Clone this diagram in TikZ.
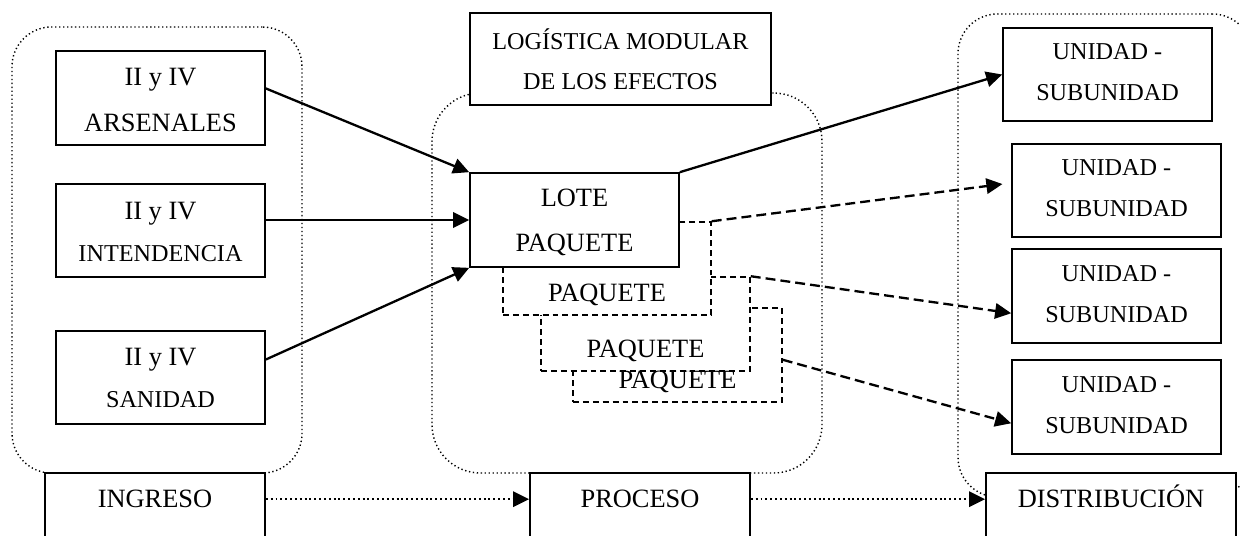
\documentclass[tikz,border=0pt]{standalone}
\usepackage{fontspec}
\setmainfont{Liberation Serif}
\usetikzlibrary{arrows.meta,fit,calc}

\tikzset{
  tip/.style={-{Triangle[length=7.3pt,width=7pt]}},
  solidbox/.style={draw, line width=0.75pt, fill=white, inner sep=0pt},
  pkgbox/.style={draw, line width=0.7pt, dash pattern=on 2.7pt off 1.8pt, fill=white, inner sep=0pt},
  group/.style={draw, line width=0.65pt, dash pattern=on 0.6pt off 1.2pt, inner sep=0pt},
  boxtext/.style={inner sep=0pt, align=center, font=\fontsize{12}{20}\selectfont},
  unittext/.style={boxtext, font=\fontsize{11}{18.6}\selectfont},
  flow/.style={tip, line width=1.05pt},
  dflow/.style={tip, line width=1.05pt, dash pattern=on 4.5pt off 2.3pt},
  stage/.style={tip, line width=0.95pt, dash pattern=on 0.9pt off 1.3pt},
  lbl/.style={inner sep=0pt, anchor=base, font=\fontsize{12}{14}\selectfont},
}

\begin{document}
\begin{tikzpicture}[x=0.4545pt, y=-0.4545pt]
\useasboundingbox (0,0) rectangle (1240,535);
\clip (0,0) rectangle (1240,535);
\fill[white] (0,0) rectangle (1240,535);

% dotted groupings
\node[group, rounded corners=18pt, fit={(12,27)(302,473)}] (gin) {};
\node[group, rounded corners=22pt, fit={(432,93)(822,473)}] (gpro) {};
\node[group, rounded corners=18pt, fit={(958,14)(1252,497)}] (gdis) {};

% sources
\node[solidbox, fit={(56,51)(265,145)}] (ars) {};
\node[solidbox, fit={(56,184)(265,277)}] (int) {};
\node[solidbox, fit={(56,331)(265,424)}] (san) {};
\node[boxtext, font=\fontsize{12}{20.5}\selectfont] (arst) at ($(ars.center)+(0,2)$)
  {II y IV\\ARSENALES};
\node[boxtext, font=\fontsize{12}{19.5}\selectfont] (intt) at ($(int.center)+(0,1.5)$)
  {II y IV\\{\fontsize{11}{19.5}\selectfont INTENDENCIA}};
\node[boxtext, font=\fontsize{12}{19.2}\selectfont] (sant) at ($(san.center)+(0,0.5)$)
  {II y IV\\{\fontsize{11}{19.2}\selectfont SANIDAD}};

% packages, back to front
\node[pkgbox, fit={(573,308)(782,402)}] (pq3) {};
\node[pkgbox, fit={(541,277)(750,371)}] (pq2) {};
\node[pkgbox, fit={(503,222)(711,315)}] (pq1) {};
\node[solidbox, fit={(470,173)(679,267)}] (lote) {};
\node[boxtext, font=\fontsize{12}{20.5}\selectfont] (lotet) at ($(lote.center)+(0,2.5)$)
  {LOTE\\PAQUETE};
\node[lbl] (pq1t) at ($(pq1.south)+(0,-14)$) {PAQUETE};
\node[lbl] (pq2t) at ($(pq2.south)+(0,-14)$) {PAQUETE};
\node[lbl] (pq3t) at ($(pq3.south)+(0,-14)$) {PAQUETE};

\node[solidbox, fit={(470,13)(771,105)}] (log) {};
\node[boxtext, font=\fontsize{11}{18.2}\selectfont] (logt) at (log.center)
  {LOGÍSTICA MODULAR\\DE LOS EFECTOS};

% destinations
\node[solidbox, fit={(1003,28)(1212,121)}] (u1) {};
\node[solidbox, fit={(1012,144)(1221,237)}] (u2) {};
\node[solidbox, fit={(1012,249)(1221,343)}] (u3) {};
\node[solidbox, fit={(1012,360)(1221,454)}] (u4) {};
\node[unittext] (u1t) at ($(u1.center)+(0,-2)$) {UNIDAD -\\SUBUNIDAD};
\node[unittext] (u2t) at ($(u2.center)+(0,-2)$) {UNIDAD -\\SUBUNIDAD};
\node[unittext] (u3t) at ($(u3.center)+(0,-2)$) {UNIDAD -\\SUBUNIDAD};
\node[unittext] (u4t) at ($(u4.center)+(0,-2)$) {UNIDAD -\\SUBUNIDAD};

% stage labels along the bottom
\node[solidbox, fit={(45,473)(265,560)}] (ing) {};
\node[solidbox, fit={(530,473)(750,560)}] (pro) {};
\node[solidbox, fit={(986,473)(1236,560)}] (dis) {};
\node[lbl] (ingt) at ($(ing.north)+(0,35)$) {INGRESO};
\node[lbl] (prot) at ($(pro.north)+(0,35)$) {PROCESO};
\node[lbl] (dist) at ($(dis.north)+(0,35)$) {DISTRIBUCIÓN};

% flows into the lot
\draw[flow] ($(ars.north east)!0.4!(ars.south east)$) -- (lote.north west);
\draw[flow] (int.east |- lote.west) -- (lote.west);
\draw[flow] ($(san.north east)!0.31!(san.south east)$) -- (lote.south west);

% flows out to the units
\draw[flow] (lote.north east) -- (u1.west);
\draw[dflow, shorten >=4pt] (pq1.north east) -- ($(u2.north west)!0.42!(u2.south west)$);
\draw[dflow] (pq2.north east) -- ($(u3.north west)!0.68!(u3.south west)$);
\draw[dflow] ($(pq3.north east)!0.55!(pq3.south east)$) -- ($(u4.north west)!0.67!(u4.south west)$);

% stage sequence
\draw[stage] ($(ing.north east)+(0,27)$) -- ($(pro.north west)+(0,27)$);
\draw[stage] ($(pro.north east)+(0,27)$) -- ($(dis.north west)+(0,27)$);
\end{tikzpicture}
\end{document}
